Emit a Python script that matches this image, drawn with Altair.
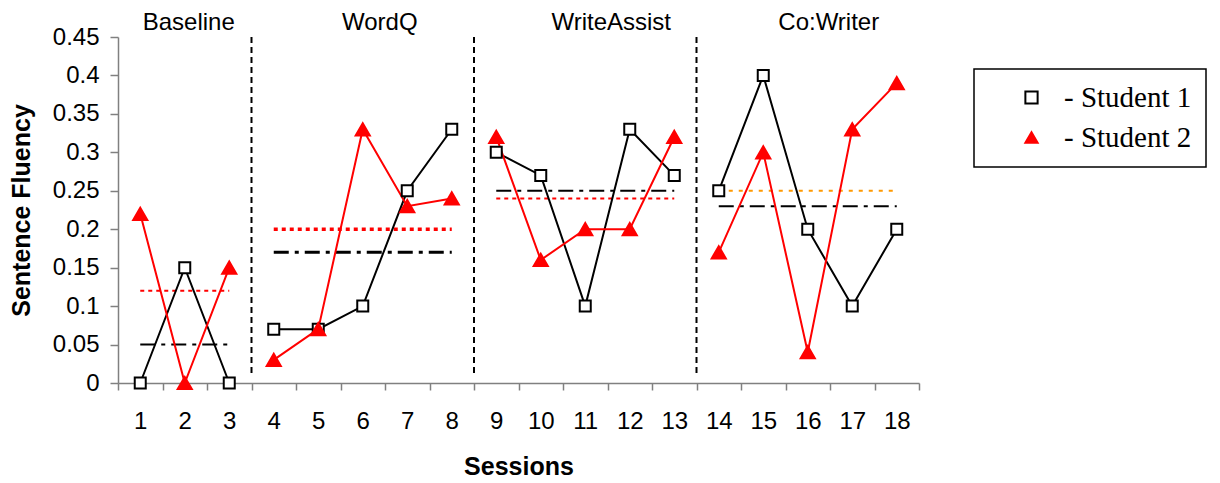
import altair as alt
import pandas as pd

# ---------------- data ----------------
sessions = list(range(1, 19))
phase_of_session = ["Baseline"] * 3 + ["WordQ"] * 5 + ["WriteAssist"] * 5 + ["Co:Writer"] * 5
student1 = [0.00, 0.15, 0.00, 0.07, 0.07, 0.10, 0.25, 0.33, 0.30, 0.27,
            0.10, 0.33, 0.27, 0.25, 0.40, 0.20, 0.10, 0.20]
student2 = [0.22, 0.00, 0.15, 0.03, 0.07, 0.33, 0.23, 0.24, 0.32, 0.16,
            0.20, 0.20, 0.32, 0.17, 0.30, 0.04, 0.33, 0.39]
students = ["Student 1", "Student 2"]

phase_names = ["Baseline", "WordQ", "WriteAssist", "Co:Writer"]
phase_first = [1, 4, 9, 14]
phase_last = [3, 8, 13, 18]
phase_mean_s1 = [0.05, 0.17, 0.25, 0.23]
phase_mean_s2 = [0.12, 0.20, 0.24, 0.25]
label_session = [2, 6, 11, 16]
y_ticks = [0, 0.05, 0.1, 0.15, 0.2, 0.25, 0.3, 0.35, 0.4, 0.45]
y_top = 0.45
phase_line_bottom = 0.01

# ---------------- tables ----------------
long_df = pd.concat([
    pd.DataFrame({"session": sessions, "phase": phase_of_session,
                  "value": student1, "student": students[0]}),
    pd.DataFrame({"session": sessions, "phase": phase_of_session,
                  "value": student2, "student": students[1]}),
], ignore_index=True)

means_df = pd.DataFrame({"phase": phase_names, "first": phase_first, "last": phase_last,
                         "m1": phase_mean_s1, "m2": phase_mean_s2})
bounds_df = pd.DataFrame({"first": phase_first[1:]})
labels_df = pd.DataFrame({"phase": phase_names, "session": label_session})

# ---------------- scales / axes ----------------
xscale = alt.Scale(type="band", domain=sessions, paddingInner=0, paddingOuter=0)
yscale = alt.Scale(domain=[0, 0.45], nice=False)
x_axis = alt.Axis(title="Sessions", labelAngle=0, tickBand="extent", grid=False,
                  tickSize=7, labelPadding=19, titlePadding=21)
y_axis = alt.Axis(title="Sentence Fluency", values=y_ticks, format=".2~f", grid=False,
                  tickSize=8, labelPadding=11, titlePadding=18)


def xs(field="session", **kw):
    return alt.X(f"{field}:O", scale=xscale, axis=x_axis, **kw)


def ys(field):
    return alt.Y(f"{field}:Q", scale=yscale, axis=y_axis)


# ---------------- layers ----------------
dashdot = [15, 6, 4, 6]
dotted = [4, 4]

mean_s1_thin = alt.Chart(means_df).transform_filter(alt.datum.phase != "WordQ").mark_rule(
    color="black", strokeWidth=2, strokeDash=dashdot).encode(
    x=xs("first"), x2="last:O", y=ys("m1"))
mean_s1_thick = alt.Chart(means_df).transform_filter(alt.datum.phase == "WordQ").mark_rule(
    color="black", strokeWidth=3, strokeDash=dashdot).encode(
    x=xs("first"), x2="last:O", y=ys("m1"))
mean_s2_thin = alt.Chart(means_df).transform_filter(
    (alt.datum.phase == "Baseline") | (alt.datum.phase == "WriteAssist")).mark_rule(
    color="red", strokeWidth=2, strokeDash=dotted).encode(
    x=xs("first"), x2="last:O", y=ys("m2"))
mean_s2_thick = alt.Chart(means_df).transform_filter(alt.datum.phase == "WordQ").mark_rule(
    color="red", strokeWidth=3.5, strokeDash=dotted).encode(
    x=xs("first"), x2="last:O", y=ys("m2"))
mean_s2_orange = alt.Chart(means_df).transform_filter(alt.datum.phase == "Co:Writer").mark_rule(
    color="#FF9900", strokeWidth=2, strokeDash=[4, 6]).encode(
    x=xs("first"), x2="last:O", y=ys("m2"))

phase_lines = alt.Chart(bounds_df).mark_rule(
    color="black", strokeWidth=2, strokeDash=[6, 4]).encode(
    x=xs("first", bandPosition=0),
    y=alt.Y(datum=y_top, scale=yscale, axis=y_axis),
    y2=alt.Y2(datum=phase_line_bottom))

line1 = alt.Chart(long_df).transform_filter(alt.datum.student == students[0]).mark_line(
    color="black", strokeWidth=2).encode(x=xs(), y=ys("value"), detail="phase:N")
line2 = alt.Chart(long_df).transform_filter(alt.datum.student == students[1]).mark_line(
    color="red", strokeWidth=2).encode(x=xs(), y=ys("value"), detail="phase:N")

leg = alt.Legend(
    title=None, labelExpr="'- ' + datum.label + ' '",
    orient="none", legendX=856, legendY=32, direction="vertical",
    padding=14, strokeColor="black", fillColor="white",
    labelFont="Liberation Serif", labelFontSize=29, labelColor="black",
    symbolSize=150, symbolStrokeWidth=2, rowPadding=10, labelOffset=18, symbolOffset=29,
)
shape_enc = alt.Shape("student:N", scale=alt.Scale(domain=students, range=["square", "triangle-up"]), legend=leg)
fill_enc = alt.Fill("student:N", scale=alt.Scale(domain=students, range=["white", "red"]), legend=leg)
stroke_enc = alt.Stroke("student:N", scale=alt.Scale(domain=students, range=["black", "red"]), legend=leg)


def point_layer(student, size):
    return alt.Chart(long_df).transform_filter(alt.datum.student == student).mark_point(
        filled=True, strokeWidth=2, opacity=1, size=size).encode(
        x=xs(), y=ys("value"), shape=shape_enc, fill=fill_enc, stroke=stroke_enc)


points1 = point_layer(students[0], 121)
points2 = point_layer(students[1], 200)

label_dx = {"Baseline": 4, "WordQ": 17, "WriteAssist": 26, "Co:Writer": 21}
phase_labels = [
    alt.Chart(labels_df).transform_filter(alt.datum.phase == name).mark_text(
        font="Liberation Sans", fontSize=24, color="black", baseline="alphabetic",
        dx=label_dx[name], dy=-7).encode(
        x=xs(), y=alt.Y(datum=y_top, scale=yscale, axis=y_axis), text="phase:N")
    for name in phase_names
]

chart = alt.layer(
    mean_s1_thin, mean_s1_thick, mean_s2_thin, mean_s2_thick, mean_s2_orange,
    phase_lines, line1, line2, points1, points2, *phase_labels
).properties(
    width=801, height=346,
    padding={"left": 110, "top": 29, "right": 293, "bottom": 96},
    autosize=alt.AutoSizeParams(type="none"),
).configure_view(stroke=None).configure_axis(
    labelFont="Liberation Sans", labelFontSize=24, labelColor="black",
    titleFont="Liberation Sans", titleFontSize=25, titleFontWeight="bold", titleColor="black",
    domainColor="#808080", domainWidth=1.5, tickColor="#808080", tickWidth=1.5,
).configure_legend(strokeWidth=1.5)

chart.save("out.html", embed_options={"renderer": "svg", "actions": False})
